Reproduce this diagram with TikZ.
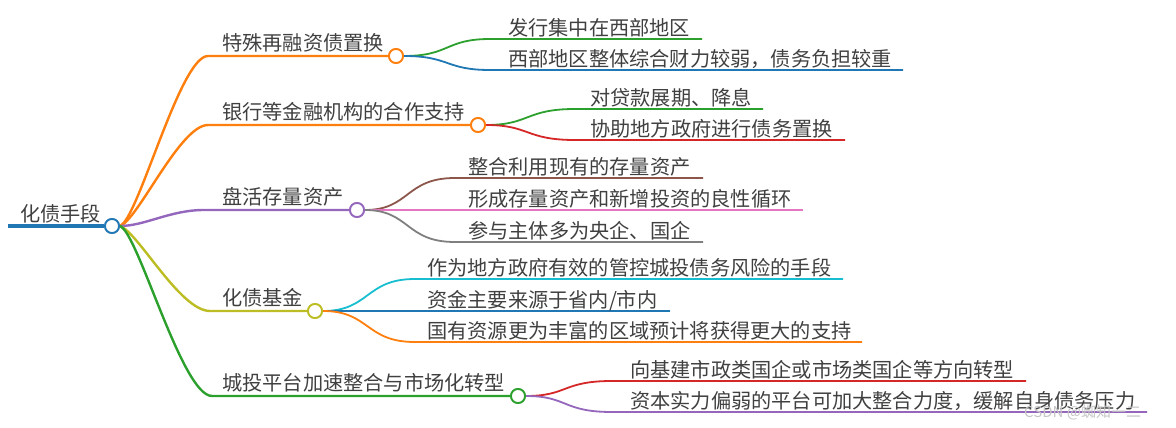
\documentclass[tikz,border=0pt]{standalone}
\usepackage{fontspec}
\newfontfamily\cjk{Noto Sans CJK SC}
\definecolor{tblue}{HTML}{1F77B4}
\definecolor{torange}{HTML}{FF7F0E}
\definecolor{tgreen}{HTML}{2CA02C}
\definecolor{tred}{HTML}{D62728}
\definecolor{tpurple}{HTML}{9467BD}
\definecolor{tbrown}{HTML}{8C564B}
\definecolor{tpink}{HTML}{E377C2}
\definecolor{tgray}{HTML}{7F7F7F}
\definecolor{tolive}{HTML}{BCBD22}
\definecolor{tcyan}{HTML}{17BECF}
\definecolor{txt}{HTML}{404040}
\tikzset{
  lbl/.style={anchor=base west,inner sep=0pt,font=\cjk\fontsize{20.2}{21}\selectfont,text=txt},
  hub/.style={circle,draw,fill=white,line width=1.8pt,minimum size=14pt,inner sep=0pt},
  br/.style={line width=2.4pt},
  ch/.style={line width=1.8pt},
}
\begin{document}
\begin{tikzpicture}[x=1pt,y=-1pt]
\useasboundingbox (0,0) rectangle (1176,428);
% root
\coordinate (r0) at (8,226);
\node[lbl] (troot) at (20,221) {化债手段};
\node[hub,draw=tblue] (root) at (112,226) {};
% branch hubs
\node[hub,draw=torange] (c1) at (396,56) {};
\node[hub,draw=torange] (c2) at (478,125) {};
\node[hub,draw=tpurple] (c3) at (357,210) {};
\node[hub,draw=tolive] (c4) at (315,311) {};
\node[hub,draw=tgreen] (c5) at (518,396) {};
% branch bends
\coordinate (k1) at (208,56);
\coordinate (k2) at (208,125);
\coordinate (k3) at (204,210);
\coordinate (k4) at (210,311);
\coordinate (k5) at (212,396);
% branch labels
\node[lbl] (t1) at (222,50.5) {特殊再融资债置换};
\node[lbl] (t2) at (222,119.5) {银行等金融机构的合作支持};
\node[lbl] (t3) at (222,204.5) {盘活存量资产};
\node[lbl] (t4) at (222,305.5) {化债基金};
\node[lbl] (t5) at (222,390.5) {城投平台加速整合与市场化转型};
% root line and branches
\draw[tblue,line width=4.5pt] (r0) -- (root.west);
\draw[br,torange] (root.east) .. controls (138,220) and (180,56) .. (k1) -- (c1.west);
\draw[br,torange] (root.east) .. controls (138,220) and (180,125) .. (k2) -- (c2.west);
\draw[br,tpurple] (root.east) .. controls (145,226) and (170,210) .. (k3) -- (c3.west);
\draw[br,tolive] (root.east) .. controls (138,232) and (180,311) .. (k4) -- (c4.west);
\draw[br,tgreen] (root.east) .. controls (138,232) and (182,396) .. (k5) -- (c5.west);
\node[hub,draw=tblue] at (root) {};
% children coordinates
\coordinate (k11) at (490,39);   \coordinate (e11) at (702,39);
\coordinate (k12) at (490,70);   \coordinate (e12) at (903,70);
\coordinate (k21) at (575,109);  \coordinate (e21) at (763,109);
\coordinate (k22) at (575,140);  \coordinate (e22) at (845,140);
\coordinate (k31) at (455,178);  \coordinate (e31) at (703,178);
\coordinate (k32) at (455,210);  \coordinate (e32) at (803,210);
\coordinate (k33) at (455,242);  \coordinate (e33) at (703,242);
\coordinate (k41) at (415,279);  \coordinate (e41) at (843,279);
\coordinate (k42) at (415,311);  \coordinate (e42) at (670,311);
\coordinate (k43) at (415,342);  \coordinate (e43) at (862,342);
\coordinate (k51) at (612,381);  \coordinate (e51) at (1026,381);
\coordinate (k52) at (612,412);  \coordinate (e52) at (1147,412);
% children connectors
\draw[ch,tgreen] (c1.east) .. controls (450,56) and (445,39) .. (k11) -- (e11);
\draw[ch,tblue] (c1.east) .. controls (450,56) and (445,70) .. (k12) -- (e12);
\draw[ch,tgreen] (c2.east) .. controls (530,125) and (525,109) .. (k21) -- (e21);
\draw[ch,tred] (c2.east) .. controls (530,125) and (525,140) .. (k22) -- (e22);
\draw[ch,tbrown] (c3.east) .. controls (410,210) and (405,178) .. (k31) -- (e31);
\draw[ch,tpink] (c3.east) -- (e32);
\draw[ch,tgray] (c3.east) .. controls (410,210) and (405,242) .. (k33) -- (e33);
\draw[ch,tcyan] (c4.east) .. controls (370,311) and (365,279) .. (k41) -- (e41);
\draw[ch,tblue] (c4.east) -- (e42);
\draw[ch,torange] (c4.east) .. controls (370,311) and (365,342) .. (k43) -- (e43);
\draw[ch,tred] (c5.east) .. controls (568,396) and (562,381) .. (k51) -- (e51);
\draw[ch,tpurple] (c5.east) .. controls (568,396) and (562,412) .. (k52) -- (e52);
\node[hub,draw=torange] at (c1) {};
\node[hub,draw=torange] at (c2) {};
\node[hub,draw=tpurple] at (c3) {};
\node[hub,draw=tolive] at (c4) {};
\node[hub,draw=tgreen] at (c5) {};
% children labels
\node[lbl] (l11) at (508,35.5) {发行集中在西部地区};
\node[lbl] (l12) at (508,66.5) {西部地区整体综合财力较弱，债务负担较重};
\node[lbl] (l21) at (590,105.5) {对贷款展期、降息};
\node[lbl] (l22) at (590,136.5) {协助地方政府进行债务置换};
\node[lbl] (l31) at (468,174.5) {整合利用现有的存量资产};
\node[lbl] (l32) at (468,206.5) {形成存量资产和新增投资的良性循环};
\node[lbl] (l33) at (468,238.5) {参与主体多为央企、国企};
\node[lbl] (l41) at (427,275.5) {作为地方政府有效的管控城投债务风险的手段};
\node[lbl] (l42) at (427,307.5) {资金主要来源于省内/市内};
\node[lbl] (l43) at (427,338.5) {国有资源更为丰富的区域预计将获得更大的支持};
\node[lbl] (l51) at (630,377.5) {向基建市政类国企或市场类国企等方向转型};
\node[lbl] (l52) at (630,408.5) {资本实力偏弱的平台可加大整合力度，缓解自身债务压力};
% watermark
\node[anchor=base west,inner sep=0pt,font=\cjk\fontsize{15}{16}\selectfont,text=gray!45] (wm) at (1024,417) {CSDN @蜘知一二};
\end{tikzpicture}
\end{document}
